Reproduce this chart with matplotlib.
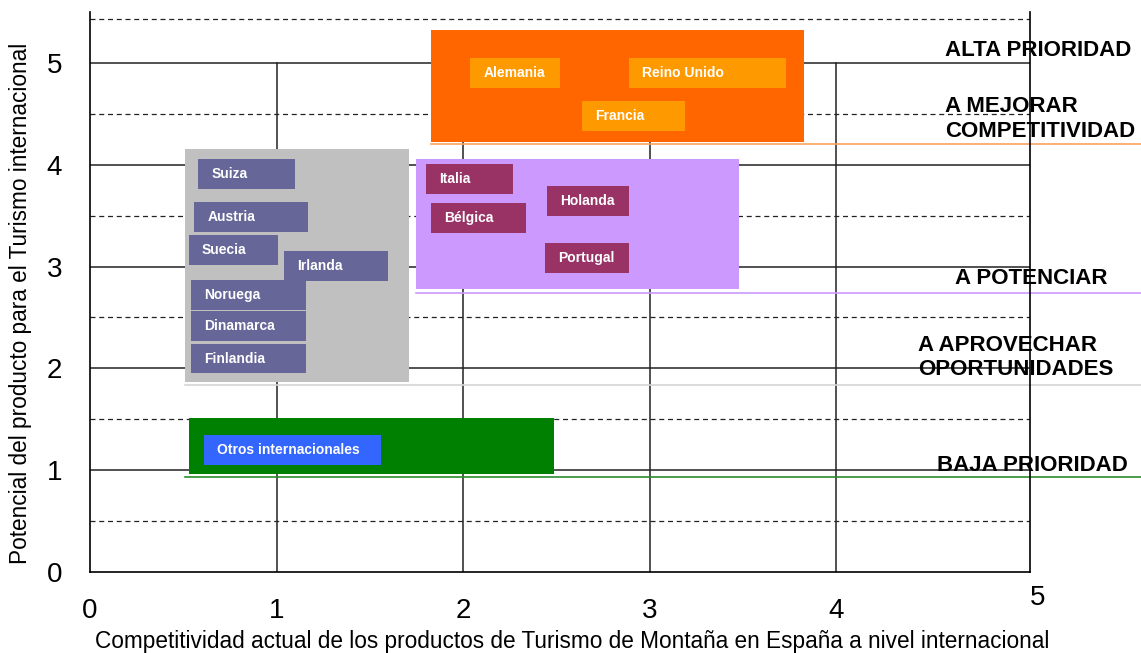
import matplotlib.pyplot as plt
from matplotlib.patches import Rectangle

plt.rcParams['font.family'] = ['Liberation Sans', 'DejaVu Sans']

# grupos de prioridad (rectangulos de fondo): x0, x1, y0, y1
grupos = ["alta", "potenciar", "aprovechar", "baja"]
grupo_x0 = [1.83, 1.75, 0.51, 0.53]
grupo_x1 = [3.83, 3.48, 1.71, 2.49]
grupo_y0 = [4.22, 2.78, 1.87, 0.96]
grupo_y1 = [5.32, 4.06, 4.15, 1.51]
grupo_linea_y = [4.20, 2.74, 1.84, 0.93]
grupo_linea_x0 = [1.83, 1.75, 0.51, 0.51]

# mercados: nombre, grupo, x0, x1, y0, y1
paises = ["Alemania", "Reino Unido", "Francia",
          "Italia", "Bélgica", "Holanda", "Portugal",
          "Suiza", "Austria", "Suecia", "Irlanda", "Noruega", "Dinamarca", "Finlandia",
          "Otros internacionales"]
pais_grupo = [0, 0, 0, 1, 1, 1, 1, 2, 2, 2, 2, 2, 2, 2, 3]
pais_x0 = [2.04, 2.89, 2.64, 1.80, 1.83, 2.45, 2.44, 0.58, 0.56, 0.53, 1.04, 0.54, 0.54, 0.54, 0.61]
pais_x1 = [2.52, 3.73, 3.19, 2.27, 2.34, 2.89, 2.89, 1.10, 1.17, 1.01, 1.60, 1.16, 1.16, 1.16, 1.56]
pais_y0 = [4.75, 4.75, 4.33, 3.71, 3.33, 3.50, 2.94, 3.76, 3.34, 3.02, 2.86, 2.57, 2.27, 1.95, 1.05]
pais_y1 = [5.05, 5.05, 4.63, 4.01, 3.62, 3.79, 3.23, 4.06, 3.63, 3.31, 3.15, 2.87, 2.56, 2.24, 1.35]

etiquetas = ["ALTA PRIORIDAD", "A MEJORAR\nCOMPETITIVIDAD", "A POTENCIAR",
             "A APROVECHAR\nOPORTUNIDADES", "BAJA PRIORIDAD"]
etiqueta_x = [4.585, 4.585, 4.64, 4.44, 4.54]
etiqueta_y = [5.12, 4.45, 2.88, 2.11, 1.05]

color_grupo = ["#FF6600", "#CC99FF", "#C0C0C0", "#008000"]
color_linea = ["#F7A55E", "#CC99FF", "#D4D4D4", "#2E8B2E"]
color_pais = ["#FF9900", "#993366", "#666699", "#3366FF"]

fig = plt.figure(figsize=(11.41, 6.53), dpi=100)
ax = fig.add_axes([90 / 1141, 81 / 653, 940 / 1141, 560 / 653])
ax.set_xlim(0, 5.04)
ax.set_ylim(0, 5.5)

# rejilla
for y in [1, 2, 3, 4, 5]:
    ax.plot([0, 5.04], [y, y], color="#222222", lw=1.1, zorder=1)
for y in [0.5, 1.5, 2.5, 3.5, 4.5, 5.43]:
    ax.plot([0, 5.04], [y, y], color="#222222", lw=0.9, ls=(0, (4, 3)), zorder=1)
for x in [1, 2, 3, 4]:
    ax.plot([x, x], [0, 5], color="#222222", lw=1.1, zorder=1)

for i in range(len(grupos)):
    ax.add_patch(Rectangle((grupo_x0[i], grupo_y0[i]), grupo_x1[i] - grupo_x0[i],
                           grupo_y1[i] - grupo_y0[i], facecolor=color_grupo[i],
                           edgecolor="none", zorder=2))
    ax.plot([grupo_linea_x0[i], 5.64], [grupo_linea_y[i]] * 2, color=color_linea[i],
            lw=1.2, clip_on=False, zorder=2)

for i, p in enumerate(paises):
    g = pais_grupo[i]
    ax.add_patch(Rectangle((pais_x0[i], pais_y0[i]), pais_x1[i] - pais_x0[i],
                           pais_y1[i] - pais_y0[i], facecolor=color_pais[g],
                           edgecolor="none", zorder=3))
    ax.text(pais_x0[i] + 0.07, (pais_y0[i] + pais_y1[i]) / 2, p, color="white",
            fontsize=10, fontweight="bold", ha="left", va="center", zorder=4)

for t, x, y in zip(etiquetas, etiqueta_x, etiqueta_y):
    ax.text(x, y, t, fontsize=16, fontweight="bold", ha="left", va="center",
            linespacing=1.2, clip_on=False, zorder=5)

ax.spines["top"].set_visible(False)
for s in ["left", "bottom", "right"]:
    ax.spines[s].set_color("black")
    ax.spines[s].set_linewidth(1.2)

ax.set_xticks([0, 1, 2, 3, 4])
ax.set_yticks([0, 1, 2, 3, 4, 5])
ax.tick_params(length=0, labelsize=20)
ax.tick_params(axis="x", pad=19)
ax.tick_params(axis="y", pad=20)
ax.text(5.04 + 0.04, -0.26, "5", fontsize=20, ha="center", va="center", clip_on=False)

ax.set_xlabel("Competitividad actual de los productos de Turismo de Montaña en España a nivel internacional",
              fontsize=16.3)
ax.set_ylabel("Potencial del producto para el Turismo internacional", fontsize=16.3)
ax.xaxis.set_label_coords(0.513, -0.104)
ax.yaxis.set_label_coords(-0.062, 0.48)

fig.savefig("out.png", dpi=100)
